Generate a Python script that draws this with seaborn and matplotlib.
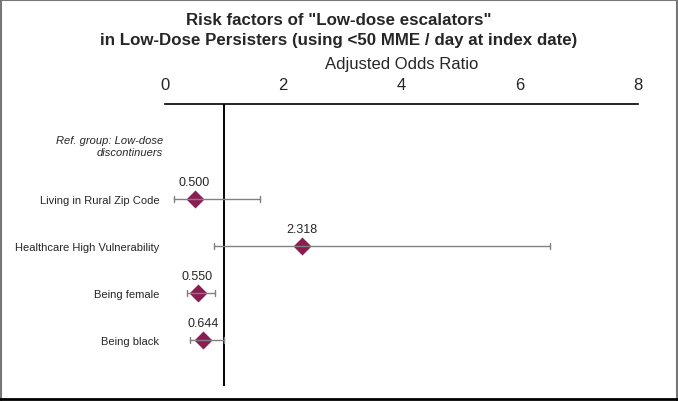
import matplotlib.pyplot as plt
import matplotlib.lines as mlines
import matplotlib.transforms as mtrans
import pandas as pd
import seaborn as sns

# Adjusted odds ratios with 95% CI
factors = ["Living in Rural Zip Code", "Healthcare High Vulnerability", "Being female", "Being black"]
aor = [0.500, 2.318, 0.550, 0.644]
ci_low = [0.15, 0.83, 0.37, 0.43]
ci_high = [1.61, 6.51, 0.85, 1.00]
x_ticks = [0, 2, 4, 6, 8]

# long form: lo / estimate / hi per factor, so median = AOR and full range = CI
df = pd.DataFrame({
    "factor": factors * 3,
    "value": ci_low + aor + ci_high,
})

sns.set_style("white")
plt.rcParams["font.family"] = ["Liberation Sans", "DejaVu Sans"]

fig = plt.figure(figsize=(6.78, 4.02), dpi=100)
ax = fig.add_axes([165 / 678, 1 - 387 / 402, (638 - 165) / 678, (387 - 105) / 402])

sns.pointplot(data=df, x="value", y="factor", order=factors, orient="h",
              estimator="median", errorbar=("pi", 100), linestyle="none",
              markers="D", markersize=7.5, color="#8B1D52", capsize=0.14,
              err_kws={"color": "#808080", "linewidth": 1.0}, ax=ax)

ax.axvline(1, color="black", linewidth=1.4, zorder=1)

for i, v in enumerate(aor):
    ax.annotate(f"{v:.3f}", (v, i), xytext=(0, 12.5), textcoords="offset points",
                ha="center", va="center", fontsize=9)

trans = mtrans.blended_transform_factory(ax.transAxes, ax.transData)
ax.text(-0.004, -1.12, "Ref. group: Low-dose\ndiscontinuers", transform=trans,
        ha="right", va="center", fontsize=8, style="italic", multialignment="right")

ax.set_xlim(0, 8)
ax.set_ylim(3.98, -2.02)
ax.set_xticks(x_ticks)
ax.xaxis.tick_top()
ax.xaxis.set_label_position("top")
ax.tick_params(axis="x", length=0, pad=9, labelsize=12)
ax.tick_params(axis="y", length=0, pad=4, labelsize=8)
ax.set_xlabel("Adjusted Odds Ratio", fontsize=12, labelpad=6)
ax.set_ylabel("")
for side in ["left", "right", "bottom"]:
    ax.spines[side].set_visible(False)
ax.spines["top"].set_color("black")
ax.spines["top"].set_linewidth(1.2)

fig.text(0.5, 1 - 30.5 / 402, 'Risk factors of "Low-dose escalators"\nin Low-Dose Persisters (using <50 MME / day at index date)',
         ha="center", va="center", fontsize=12.2, fontweight="bold", linespacing=1.35)

# outer frame
fig.add_artist(mlines.Line2D([0.0015, 0.0015], [0, 1], color="#777777", linewidth=1.5, transform=fig.transFigure))
fig.add_artist(mlines.Line2D([0.9985, 0.9985], [0, 1], color="#777777", linewidth=1.5, transform=fig.transFigure))
fig.add_artist(mlines.Line2D([0, 1], [0.997, 0.997], color="#777777", linewidth=1.5, transform=fig.transFigure))
fig.add_artist(mlines.Line2D([0, 1], [1 - 400 / 402, 1 - 400 / 402], color="black", linewidth=2, transform=fig.transFigure))

fig.savefig("out.png", dpi=100)
